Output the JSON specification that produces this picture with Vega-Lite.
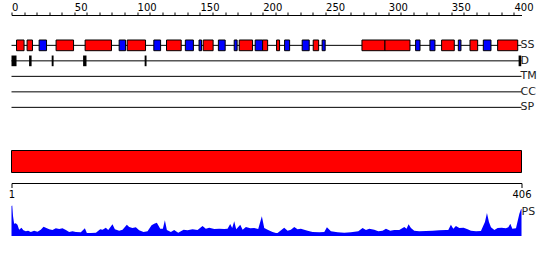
{
  "$schema": "https://vega.github.io/schema/vega-lite/v6.json",
  "padding": {"left": 7.5, "top": 2, "right": 0, "bottom": 0},
  "spacing": 32.5,
  "bounds": "flush",
  "config": {"view": {"stroke": null}, "font": "DejaVu Sans"},
  "datasets": {
    "tracks": [
      {"track": "SS", "start": 0, "end": 406},
      {"track": "D", "start": 0, "end": 406},
      {"track": "TM", "start": 0, "end": 406},
      {"track": "CC", "start": 0, "end": 406},
      {"track": "SP", "start": 0, "end": 406}
    ],
    "ss": [
      {"track": "SS", "type": "helix", "start": 4.0, "end": 10.0},
      {"track": "SS", "type": "helix", "start": 12.4, "end": 16.7},
      {"track": "SS", "type": "strand", "start": 22.0, "end": 27.9},
      {"track": "SS", "type": "helix", "start": 35.5, "end": 49.4},
      {"track": "SS", "type": "helix", "start": 58.6, "end": 79.6},
      {"track": "SS", "type": "strand", "start": 85.7, "end": 90.8},
      {"track": "SS", "type": "helix", "start": 92.1, "end": 106.7},
      {"track": "SS", "type": "strand", "start": 113.3, "end": 118.7},
      {"track": "SS", "type": "helix", "start": 123.4, "end": 135.1},
      {"track": "SS", "type": "strand", "start": 138.4, "end": 144.8},
      {"track": "SS", "type": "strand", "start": 149.3, "end": 151.3},
      {"track": "SS", "type": "helix", "start": 152.6, "end": 160.5},
      {"track": "SS", "type": "strand", "start": 164.7, "end": 170.1},
      {"track": "SS", "type": "strand", "start": 177.3, "end": 179.6},
      {"track": "SS", "type": "helix", "start": 181.3, "end": 191.9},
      {"track": "SS", "type": "strand", "start": 194.0, "end": 199.9},
      {"track": "SS", "type": "helix", "start": 199.9, "end": 203.9},
      {"track": "SS", "type": "helix", "start": 211.0, "end": 213.4},
      {"track": "SS", "type": "strand", "start": 217.4, "end": 221.4},
      {"track": "SS", "type": "strand", "start": 231.4, "end": 237.0},
      {"track": "SS", "type": "helix", "start": 240.2, "end": 244.5},
      {"track": "SS", "type": "strand", "start": 247.3, "end": 249.7},
      {"track": "SS", "type": "helix", "start": 279.0, "end": 297.3},
      {"track": "SS", "type": "helix", "start": 297.3, "end": 317.2},
      {"track": "SS", "type": "strand", "start": 321.7, "end": 325.2},
      {"track": "SS", "type": "strand", "start": 333.1, "end": 337.1},
      {"track": "SS", "type": "helix", "start": 342.4, "end": 352.5},
      {"track": "SS", "type": "strand", "start": 355.7, "end": 357.8},
      {"track": "SS", "type": "helix", "start": 365.0, "end": 371.1},
      {"track": "SS", "type": "strand", "start": 375.6, "end": 381.7},
      {"track": "SS", "type": "helix", "start": 387.0, "end": 403.0}
    ],
    "dis": [
      {"track": "D", "start": 0, "end": 4},
      {"track": "D", "start": 14, "end": 16},
      {"track": "D", "start": 32, "end": 33.5},
      {"track": "D", "start": 57, "end": 59.7},
      {"track": "D", "start": 106, "end": 107.5},
      {"track": "D", "start": 403.7, "end": 405.8}
    ],
    "ps": [
      {"pos": 0, "ps": 30}, {"pos": 0.6, "ps": 30.5}, {"pos": 1.2, "ps": 20}, {"pos": 2.1, "ps": 12.3},
      {"pos": 3.4, "ps": 12.7}, {"pos": 4.75, "ps": 11.3}, {"pos": 6.1, "ps": 6.3}, {"pos": 7.9, "ps": 8.3},
      {"pos": 9.5, "ps": 5.7}, {"pos": 11.4, "ps": 4.7}, {"pos": 13.2, "ps": 5.3}, {"pos": 15.4, "ps": 4},
      {"pos": 18.0, "ps": 5.3}, {"pos": 20.7, "ps": 4.3}, {"pos": 23.3, "ps": 6.3}, {"pos": 25.5, "ps": 9.3},
      {"pos": 27.3, "ps": 8.3}, {"pos": 30, "ps": 6.7}, {"pos": 32.6, "ps": 6}, {"pos": 35.3, "ps": 7.7},
      {"pos": 38, "ps": 7}, {"pos": 40.6, "ps": 7.7}, {"pos": 43.3, "ps": 6}, {"pos": 45.9, "ps": 4},
      {"pos": 48.6, "ps": 4.7}, {"pos": 51.2, "ps": 4}, {"pos": 55.2, "ps": 3.7}, {"pos": 58.4, "ps": 7.7},
      {"pos": 60, "ps": 3}, {"pos": 63.2, "ps": 3}, {"pos": 67.2, "ps": 3.3}, {"pos": 70.6, "ps": 6.7},
      {"pos": 72.5, "ps": 6.3}, {"pos": 75.1, "ps": 8.3}, {"pos": 77, "ps": 6}, {"pos": 80.4, "ps": 11.7},
      {"pos": 82.3, "ps": 6.7}, {"pos": 85.7, "ps": 5.3}, {"pos": 88.4, "ps": 6.3}, {"pos": 91.8, "ps": 11.3},
      {"pos": 93.7, "ps": 9}, {"pos": 96.3, "ps": 8}, {"pos": 99, "ps": 8.7}, {"pos": 101.6, "ps": 5.7},
      {"pos": 105.1, "ps": 4}, {"pos": 108.3, "ps": 4.7}, {"pos": 111.5, "ps": 10.7}, {"pos": 113.6, "ps": 12.3},
      {"pos": 115.7, "ps": 13.3}, {"pos": 118.4, "ps": 7.3}, {"pos": 120.5, "ps": 7.3}, {"pos": 122.1, "ps": 15.7},
      {"pos": 123.7, "ps": 6}, {"pos": 126.9, "ps": 4}, {"pos": 129.5, "ps": 6}, {"pos": 132.7, "ps": 3.3},
      {"pos": 137, "ps": 6.3}, {"pos": 140.1, "ps": 5.7}, {"pos": 144.1, "ps": 6.7}, {"pos": 148.1, "ps": 6},
      {"pos": 152.1, "ps": 10}, {"pos": 154.7, "ps": 7.3}, {"pos": 157.4, "ps": 8.3}, {"pos": 161.4, "ps": 7},
      {"pos": 165.4, "ps": 7.3}, {"pos": 169.3, "ps": 7}, {"pos": 172, "ps": 7.3}, {"pos": 174.1, "ps": 12},
      {"pos": 175.7, "ps": 8}, {"pos": 177.3, "ps": 14.7}, {"pos": 178.9, "ps": 6.7}, {"pos": 182.1, "ps": 11.3},
      {"pos": 184, "ps": 6.3}, {"pos": 186.6, "ps": 9}, {"pos": 190.1, "ps": 7.7}, {"pos": 193.2, "ps": 8},
      {"pos": 196.4, "ps": 7}, {"pos": 199.3, "ps": 19.7}, {"pos": 201.2, "ps": 8}, {"pos": 203.9, "ps": 6.3},
      {"pos": 207.8, "ps": 4}, {"pos": 210.5, "ps": 3}, {"pos": 211.8, "ps": 3}, {"pos": 217.1, "ps": 8.3},
      {"pos": 219.8, "ps": 5.3}, {"pos": 222.4, "ps": 6.3}, {"pos": 225.1, "ps": 9}, {"pos": 227.7, "ps": 6.7},
      {"pos": 230.4, "ps": 7.3}, {"pos": 233.0, "ps": 6.3}, {"pos": 235.7, "ps": 5.3}, {"pos": 239.7, "ps": 4},
      {"pos": 245, "ps": 3.7}, {"pos": 249, "ps": 4}, {"pos": 251.1, "ps": 8.7}, {"pos": 254.3, "ps": 4.7},
      {"pos": 259.6, "ps": 3.7}, {"pos": 264.9, "ps": 3.3}, {"pos": 270.2, "ps": 3.7}, {"pos": 276.1, "ps": 4.7},
      {"pos": 279.5, "ps": 8}, {"pos": 282.2, "ps": 6}, {"pos": 284.8, "ps": 7.3}, {"pos": 288.8, "ps": 6.3},
      {"pos": 292, "ps": 4.7}, {"pos": 295.4, "ps": 5.3}, {"pos": 298.1, "ps": 7.3}, {"pos": 301.5, "ps": 5.3},
      {"pos": 304.7, "ps": 6}, {"pos": 308.7, "ps": 6}, {"pos": 312.7, "ps": 9}, {"pos": 314.5, "ps": 7.3},
      {"pos": 316.1, "ps": 11.7}, {"pos": 318, "ps": 8}, {"pos": 320.6, "ps": 5.3}, {"pos": 324.6, "ps": 4.7},
      {"pos": 329.9, "ps": 5}, {"pos": 335.2, "ps": 5.3}, {"pos": 340.6, "ps": 5.7}, {"pos": 345.9, "ps": 6},
      {"pos": 347.7, "ps": 6}, {"pos": 349.8, "ps": 11.3}, {"pos": 351.7, "ps": 7.3}, {"pos": 353.8, "ps": 10},
      {"pos": 356.5, "ps": 8}, {"pos": 359.9, "ps": 8.3}, {"pos": 363.1, "ps": 6.7}, {"pos": 365.8, "ps": 5.3},
      {"pos": 369.8, "ps": 4.7}, {"pos": 373.7, "ps": 5}, {"pos": 376.9, "ps": 14}, {"pos": 378.5, "ps": 23},
      {"pos": 380.1, "ps": 14}, {"pos": 381.7, "ps": 8.7}, {"pos": 384.4, "ps": 6}, {"pos": 387, "ps": 8},
      {"pos": 390.2, "ps": 8.3}, {"pos": 393.6, "ps": 7.7}, {"pos": 395.5, "ps": 8.7}, {"pos": 397.1, "ps": 12.3},
      {"pos": 398.7, "ps": 7.3}, {"pos": 401.6, "ps": 7.7}, {"pos": 404.3, "ps": 22.3}, {"pos": 405.6, "ps": 26.7},
      {"pos": 406, "ps": 27.3}
    ]
  },
  "vconcat": [
    {
      "width": 510,
      "height": 103,
      "encoding": {
        "x": {
          "field": "start", "type": "quantitative",
          "scale": {"domain": [0, 406], "nice": false, "zero": false},
          "axis": {
            "orient": "top", "title": null, "grid": false,
            "values": [0,10,20,30,40,50,60,70,80,90,100,110,120,130,140,150,160,170,180,190,200,210,220,230,240,250,260,270,280,290,300,310,320,330,340,350,360,370,380,390,400],
            "labelExpr": "datum.value % 50 == 0 ? datum.label : ''",
            "labelAlign": "left", "labelPadding": 0, "labelFlush": false, "labelOverlap": false,
            "labelFont": "DejaVu Sans", "labelFontSize": 10, "labelColor": "#000",
            "tickSize": 3, "tickColor": "#000", "domainColor": "#000", "domainWidth": 1, "tickWidth": 1
          }
        },
        "x2": {"field": "end"},
        "y": {
          "field": "track", "type": "nominal",
          "scale": {"type": "band", "domain": ["SS", "D", "TM", "CC", "SP"], "paddingInner": 0.31, "paddingOuter": 0.978, "align": 0.825, "round": false},
          "axis": null
        }
      },
      "layer": [
        {"data": {"name": "tracks"}, "mark": {"type": "rule", "color": "#000", "strokeWidth": 1}},
        {
          "data": {"name": "ss"},
          "mark": {"type": "rect", "stroke": "#000", "strokeWidth": 1},
          "encoding": {
            "color": {"field": "type", "type": "nominal", "scale": {"domain": ["helix", "strand"], "range": ["#ff0000", "#0000ff"]}, "legend": null}
          }
        },
        {"data": {"name": "dis"}, "mark": {"type": "rect", "color": "#000"}},
        {
          "data": {"name": "tracks"},
          "mark": {"type": "text", "align": "left", "baseline": "middle", "dx": -1, "fontSize": 11, "font": "DejaVu Sans", "color": "#222"},
          "encoding": {"x": {"field": "end", "type": "quantitative"}, "text": {"field": "track"}}
        }
      ]
    },
    {
      "width": 510,
      "height": 22,
      "data": {"values": [{"chain": "chain", "start": 0, "end": 406}]},
      "mark": {"type": "rect", "fill": "#ff0000", "stroke": "#000", "strokeWidth": 1},
      "encoding": {
        "x": {
          "field": "start", "type": "quantitative",
          "scale": {"domain": [0, 406], "nice": false, "zero": false},
          "axis": {
            "orient": "bottom", "title": null, "grid": false, "offset": 10.5,
            "values": [0, 406],
            "labelExpr": "datum.value == 0 ? '1' : '406'",
            "labelAlign": "center", "labelPadding": 2, "labelFlush": false, "labelOverlap": false,
            "labelFont": "DejaVu Sans", "labelFontSize": 10, "labelColor": "#000",
            "tickSize": 4.5, "tickColor": "#000", "domainColor": "#000"
          }
        },
        "x2": {"field": "end"},
        "y": {"field": "chain", "type": "nominal", "scale": {"type": "band", "paddingInner": 0, "paddingOuter": 0}, "axis": null}
      }
    },
    {
      "width": 510,
      "height": 31,
      "layer": [
        {
          "data": {"name": "ps"},
          "mark": {"type": "area", "color": "#0000ff", "interpolate": "linear"},
          "encoding": {
            "x": {"field": "pos", "type": "quantitative", "scale": {"domain": [0, 406], "nice": false, "zero": false}, "axis": null},
            "y": {"field": "ps", "type": "quantitative", "scale": {"domain": [0, 31], "nice": false}, "axis": null}
          }
        },
        {
          "data": {"values": [{"label": "PS", "pos": 406, "ps": 24.5}]},
          "mark": {"type": "text", "align": "left", "baseline": "middle", "dx": 0, "fontSize": 11, "font": "DejaVu Sans", "color": "#222"},
          "encoding": {
            "x": {"field": "pos", "type": "quantitative"},
            "y": {"field": "ps", "type": "quantitative"},
            "text": {"field": "label"}
          }
        }
      ]
    }
  ]
}
